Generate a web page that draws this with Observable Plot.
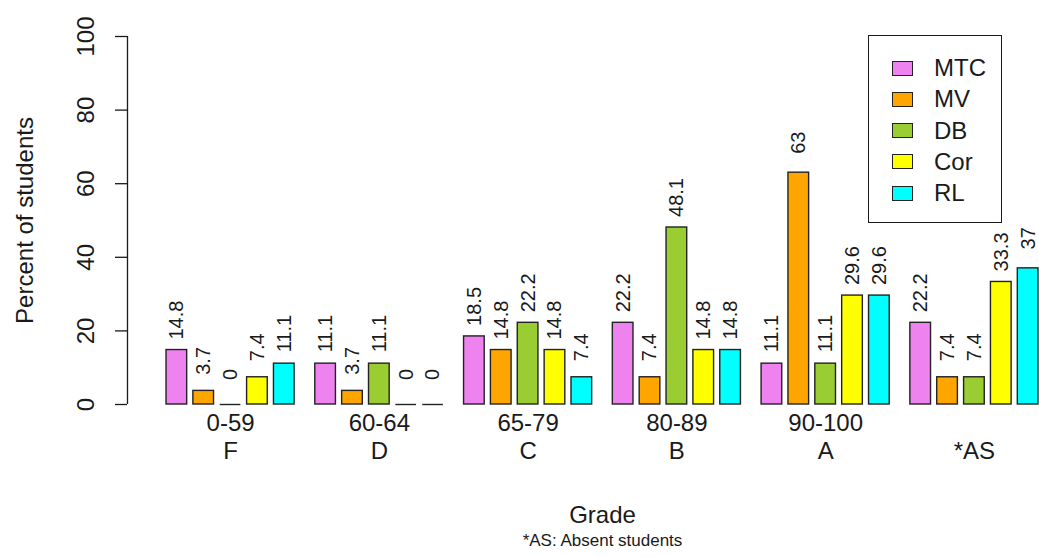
<!DOCTYPE html>
<html>
<head>
<meta charset="utf-8">
<script src="https://cdn.jsdelivr.net/npm/d3@7"></script>
<script src="https://cdn.jsdelivr.net/npm/@observablehq/plot@0.6"></script>
<style>
  html, body { margin: 0; padding: 0; background: #fff; }
  #wrap { position: relative; width: 1039px; height: 557px; font-family: "Liberation Sans", Arial, sans-serif; color: #1a1a1a; }
  #legend { position: absolute; left: 868px; top: 35px; width: 132px; height: 186px; border: 1.5px solid #1a1a1a; box-sizing: content-box; }
  .row { position: absolute; left: 0; height: 30px; display: flex; align-items: center; font-size: 24px; }
  .sw { width: 19px; height: 13px; border: 1.3px solid #222; margin-left: 23px; margin-right: 21px; }
</style>
</head>
<body>
<div id="wrap"><div id="legend"></div></div>
<script>
// ---- data ----
const grades  = ["0-59", "60-64", "65-79", "80-89", "90-100", ""];
const letters = ["F", "D", "C", "B", "A", "*AS"];
const series  = ["MTC", "MV", "DB", "Cor", "RL"];
const colors  = ["violet", "orange", "yellowgreen", "yellow", "cyan"];
const MTC = [14.8, 11.1, 18.5, 22.2, 11.1, 22.2];
const MV  = [3.7, 3.7, 14.8, 7.4, 63, 7.4];
const DB  = [0, 11.1, 22.2, 48.1, 11.1, 7.4];
const Cor = [7.4, 0, 14.8, 14.8, 29.6, 33.3];
const RL  = [11.1, 0, 7.4, 14.8, 29.6, 37];
const yTicks = [0, 20, 40, 60, 80, 100];

// ---- layout (barplot-style units: bar width 1, space 0.3 within group, 1 between groups) ----
const values = [MTC, MV, DB, Cor, RL];
const inner = 0.3, outer = 1;
const groupStep = series.length * (1 + inner) - inner + outer;
const table = grades.flatMap((g, i) => series.map((s, j) => {
  const x1 = outer + i * groupStep + j * (1 + inner);
  return {group: i, series: s, value: values[j][i], x1, x2: x1 + 1, xm: x1 + 0.5};
}));
const groupInfo = grades.map((g, i) => ({
  grade: g, letter: letters[i],
  xc: outer + i * groupStep + (series.length * (1 + inner) - inner) / 2
}));
const xEnd = outer + grades.length * groupStep - outer;
const xmin = -0.888, xmax = 43.25;
const ink = "#1a1a1a";

const chart = Plot.plot({
  width: 1039, height: 557,
  marginLeft: 127, marginRight: 0, marginTop: 36, marginBottom: 153,
  x: {domain: [xmin, xmax], axis: null},
  y: {domain: [0, 100], axis: null},
  color: {domain: series, range: colors},
  style: {fontFamily: "'Liberation Sans', Arial, sans-serif", color: ink, background: "white", overflow: "visible"},
  marks: [
    Plot.ruleX([xmin], {y1: 0, y2: 100, stroke: ink, strokeWidth: 1.3}),
    Plot.axisY({ticks: yTicks, tickSize: 12, tickRotate: -90, tickPadding: 22, fontSize: 24, label: null, stroke: ink, strokeWidth: 1.3}),
    Plot.rectY(table.filter(d => d.value > 0), {x1: "x1", x2: "x2", y1: 0, y2: "value", fill: "series", stroke: "#222", strokeWidth: 1.4}),
    Plot.ruleY(table.filter(d => d.value === 0), {x1: "x1", x2: "x2", y: 0, stroke: "#222", strokeWidth: 1.4}),
    Plot.text(table, {x: "xm", y: "value", text: d => String(d.value), rotate: -90, dy: -30, fontSize: 20, fill: ink}),
    Plot.text(groupInfo, {x: "xc", y: 0, text: "grade", dy: 19, fontSize: 24, fill: ink}),
    Plot.text(groupInfo, {x: "xc", y: 0, text: "letter", dy: 47, fontSize: 24, fill: ink}),
    Plot.text(["Grade"], {x: (outer + xEnd) / 2, y: 0, dy: 111, fontSize: 24, fill: ink}),
    Plot.text(["*AS: Absent students"], {x: (outer + xEnd) / 2, y: 0, dy: 136, fontSize: 17, fill: ink}),
    Plot.text(["Percent of students"], {frameAnchor: "left", textAnchor: "middle", rotate: -90, dx: -102, fontSize: 24, fill: ink})
  ]
});
const wrap = document.getElementById("wrap");
wrap.insertBefore(chart, wrap.firstChild);

// legend
const legend = document.getElementById("legend");
series.forEach((s, j) => {
  const row = document.createElement("div");
  row.className = "row";
  row.style.top = (17 + j * 31.3) + "px";
  const sw = document.createElement("div");
  sw.className = "sw";
  sw.style.background = colors[j];
  const t = document.createElement("span");
  t.textContent = s;
  row.appendChild(sw); row.appendChild(t);
  legend.appendChild(row);
});
</script>
</body>
</html>
